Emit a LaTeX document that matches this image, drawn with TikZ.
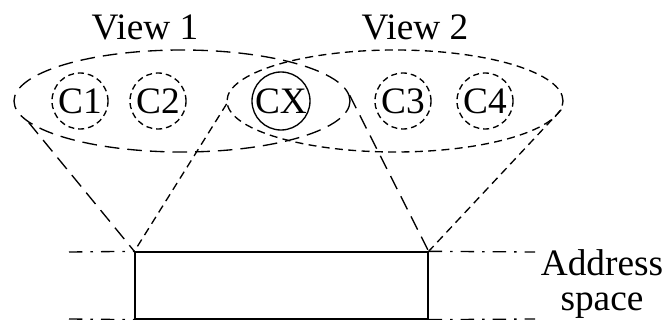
\documentclass[tikz,border=0pt]{standalone}
\usepackage{fontspec}
\setmainfont{Liberation Serif}
\usepackage{tikz}
\usetikzlibrary{shapes.geometric}

\begin{document}
\begin{tikzpicture}[x=0.75pt, y=-0.75pt,
  view/.style={ellipse, draw, line width=1pt, minimum width=252pt, minimum height=76.5pt, inner sep=0pt},
  longdash/.style={line width=1pt, dash pattern=on 11pt off 6pt},
  shortdash/.style={line width=1pt, dash pattern=on 6pt off 4pt},
  cnode/.style={circle, draw, line width=1pt, minimum size=42pt, inner sep=0pt, font=\fontsize{28}{28}\selectfont},
  label/.style={font=\fontsize{28}{26}\selectfont, align=center, inner sep=1pt},
  dashdot/.style={line width=1pt, dash pattern=on 10pt off 6pt on 2pt off 6pt}
]
  \useasboundingbox (0,0) rectangle (664,320);
  \node[view, longdash] (v1) at (182,101) {};
  \node[view, shortdash] (v2) at (395,101) {};
  \node[cnode, dash pattern=on 4.5pt off 3pt] (c1) at (80,101) {C1};
  \node[cnode, dash pattern=on 4.5pt off 3pt] (c2) at (158,101) {C2};
  \node[cnode, minimum size=43.5pt] (cx) at (281,101) {CX};
  \node[cnode, dash pattern=on 4.5pt off 3pt] (c3) at (403,101) {C3};
  \node[cnode, dash pattern=on 4.5pt off 3pt] (c4) at (485,101) {C4};
  \node[label] (t1) at (145,27) {View 1};
  \node[label] (t2) at (415,27) {View 2};
  \node[draw, line width=1pt, minimum width=219.75pt, minimum height=50.25pt, inner sep=0pt] (as) at (281.5,285.5) {};
  \node[label] (ta) at (602,284) {Address\\space};
  \coordinate (l1) at (69,252);
  \coordinate (l2) at (69,319);
  \coordinate (r1) at (535,252);
  \coordinate (r2) at (535,319);
  \draw[longdash] (v1.188) -- (as.north west);
  \draw[longdash] (v1.2) -- (as.north east);
  \draw[shortdash] (v2.181) -- (as.north west);
  \draw[shortdash] (v2.357) -- (as.north east);
  \draw[dashdot] (l1) -- (as.north west);
  \draw[dashdot] (l2) -- (as.south west);
  \draw[dashdot] (as.north east) -- (r1);
  \draw[dashdot] (as.south east) -- (r2);
\end{tikzpicture}
\end{document}
